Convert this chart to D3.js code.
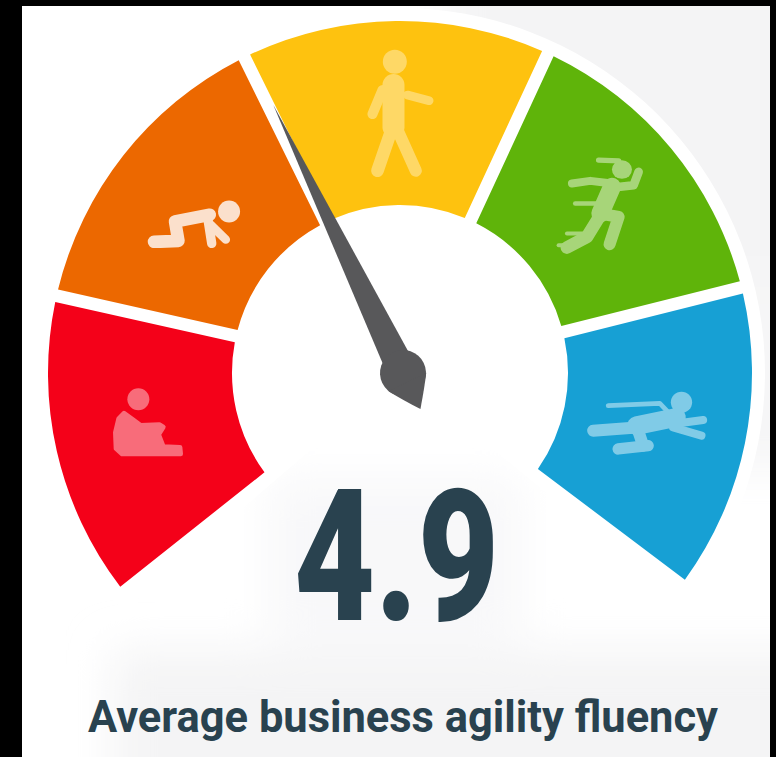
<!DOCTYPE html>
<html>
<head>
<meta charset="utf-8">
<script src="https://cdn.jsdelivr.net/npm/d3@7"></script>
<style>
  html, body { margin: 0; padding: 0; background: #000; }
  svg { display: block; }
</style>
</head>
<body>
<div id="chart"></div>
<script>
// data
const levels = ["Sitting", "Crawling", "Walking", "Running", "Flying"];
const levelWeights = [1, 1, 1, 1, 1];
const levelColors = ["#f40119", "#ec6800", "#fec20f", "#5fb40a", "#17a0d4"];
const scoreValue = 4.9;
const scoreLabel = "Average business agility fluency";
const scaleDomain = [0, 12.2];   // fluency position along the dial, read from the needle

// dial geometry
const W = 776, H = 757;
const cx = 400, cy = 373;
const rOuter = 352, rInner = 168;
const startDeg = -128.4, endDeg = 127;
const startA = startDeg * Math.PI / 180, endA = endDeg * Math.PI / 180;

const svg = d3.select("#chart").append("svg").attr("width", W).attr("height", H);
const defs = svg.append("defs");
defs.append("filter").attr("id", "soft").attr("x", "-30%").attr("y", "-30%")
  .attr("width", "160%").attr("height", "160%")
  .append("feGaussianBlur").attr("stdDeviation", 22);
defs.append("filter").attr("id", "fuzz")
  .append("feGaussianBlur").attr("stdDeviation", 2);
defs.append("clipPath").attr("id", "panel")
  .append("rect").attr("x", 22).attr("y", 6).attr("width", 748).attr("height", H - 6);

// panel, the picture has a black frame round it except at the bottom
const bg = svg.append("g").attr("clip-path", "url(#panel)");
bg.append("rect").attr("x", 22).attr("y", 6).attr("width", 748).attr("height", H - 6).attr("fill", "#fff");

// faint grey patches of the screenshot's background
const patches = [
  [440, -60, 420, 390, "#f4f4f5"],
  [650, 280, 180, 190, "#f6f6f7"],
  [270, 480, 250, 160, "#f8f8f9"],
  [112, 650, 760, 180, "#f4f4f5"]
];
bg.append("g").attr("filter", "url(#soft)")
  .selectAll("rect")
  .data(patches)
  .join("rect")
  .attr("x", d => d[0]).attr("y", d => d[1]).attr("width", d => d[2]).attr("height", d => d[3])
  .attr("fill", d => d[4]);

const g = svg.append("g").attr("transform", `translate(${cx},${cy})`);

// white halo round the dial
g.append("path")
  .attr("fill", "#fff")
  .attr("d", d3.arc().innerRadius(0).outerRadius(rOuter + 13).startAngle(startA - 0.04).endAngle(endA + 0.04).cornerRadius(8)());

// sectors
const pie = d3.pie().sort(null).startAngle(startA).endAngle(endA);
const arc = d3.arc().innerRadius(rInner).outerRadius(rOuter).padAngle(0.036).padRadius(rOuter);
const slices = pie(levelWeights);

g.selectAll("path.sector")
  .data(slices)
  .join("path")
  .attr("class", "sector")
  .attr("fill", (d, i) => levelColors[i])
  .attr("d", arc);

// pictograms, drawn at 3x and placed from each sector's centroid
const icons = [
  { dx: -46.5, dy: -55.6, op: 0.42,
    heads: [[115, 72, 33, 33]],
    fills: ["M72,114 L100,134 L122,150 L178,148 L190,155 L176,178 L190,214 L240,216 L242,236 L66,236 L48,220 L46,172 L56,130 Z"],
    strokes: [] },
  { dx: -60, dy: -28, op: 0.8,
    heads: [[280, 82, 33, 33]],
    fills: [],
    strokes: [["M55,173 L128,170 L118,112 L222,92", 38], ["M215,95 L228,178", 28], ["M225,122 L270,166", 26]] },
  { dx: -46, dy: -73, op: 0.36,
    heads: [[132, 65, 36, 36]],
    fills: [],
    strokes: [["M128,135 L128,262", 66], ["M95,150 L65,222", 30], ["M170,165 L235,182", 26], ["M122,270 L80,392", 38], ["M140,270 L195,392", 36]] },
  { dx: -50, dy: -57, op: 0.45,
    heads: [[215, 58, 30, 28]],
    fills: [],
    strokes: [["M145,30 L205,32", 16], ["M185,110 L150,190", 54], ["M185,100 L120,92 L65,100", 24], ["M190,112 L250,105 L265,65", 26],
      ["M150,190 L205,200 L178,282", 36], ["M150,195 L110,260 L50,292", 38], ["M75,160 L140,160", 14], ["M50,250 L110,250", 12], ["M25,285 L70,285", 12]] },
  { dx: -75, dy: -44, op: 0.45,
    heads: [[305, 65, 32, 32]],
    fills: [],
    strokes: [["M85,75 L240,68 L275,105", 14], ["M170,135 L290,110", 56], ["M40,150 L180,140", 36], ["M115,205 L205,195", 34],
      ["M175,150 L190,195", 36], ["M280,130 L370,118", 24], ["M280,140 L365,165", 24]] }
];

const iconG = g.selectAll("g.icon")
  .data(slices)
  .join("g")
  .attr("class", "icon")
  .attr("fill", "#fff")
  .attr("transform", (d, i) => {
    const c = arc.centroid(d);
    return `translate(${c[0] + icons[i].dx},${c[1] + icons[i].dy}) scale(${1 / 3})`;
  })
  .attr("opacity", (d, i) => icons[i].op)
  .attr("filter", "url(#fuzz)");

iconG.each(function (d, i) {
  const el = d3.select(this), ic = icons[i];
  ic.heads.forEach(h => el.append("ellipse").attr("cx", h[0]).attr("cy", h[1]).attr("rx", h[2]).attr("ry", h[3]));
  ic.fills.forEach(p => el.append("path").attr("d", p).attr("stroke", "#fff").attr("stroke-width", 14).attr("stroke-linejoin", "round"));
  ic.strokes.forEach(s => el.append("path").attr("d", s[0]).attr("fill", "none").attr("stroke", "#fff")
    .attr("stroke-width", s[1]).attr("stroke-linecap", "round").attr("stroke-linejoin", "round"));
});

// needle
const angle = d3.scaleLinear().domain(scaleDomain).range([startDeg, endDeg]);
const needle = svg.append("g").attr("transform", `translate(403,373) rotate(${angle(scoreValue)})`);
needle.append("path").attr("fill", "#58585a").attr("d", "M0,-298 L15,0 L-15,0 Z");
needle.append("circle").attr("r", 23).attr("fill", "#58585a");
needle.append("path").attr("fill", "#58585a").attr("d", "M-21,10 Q-12,24 0,40 Q12,24 21,10 Z");

// score and caption
svg.append("text")
  .attr("x", 294).attr("y", 620)
  .attr("textLength", 205).attr("lengthAdjust", "spacingAndGlyphs")
  .style("font-family", "Roboto, sans-serif").style("font-weight", 900).style("font-size", "183px")
  .attr("fill", "#29424f")
  .text(d3.format(".1f")(scoreValue));

svg.append("text")
  .attr("x", 88).attr("y", 732)
  .attr("textLength", 630).attr("lengthAdjust", "spacingAndGlyphs")
  .style("font-family", "Roboto, sans-serif").style("font-weight", 700).style("font-size", "45px")
  .attr("fill", "#29424f")
  .text(scoreLabel);
</script>
</body>
</html>
